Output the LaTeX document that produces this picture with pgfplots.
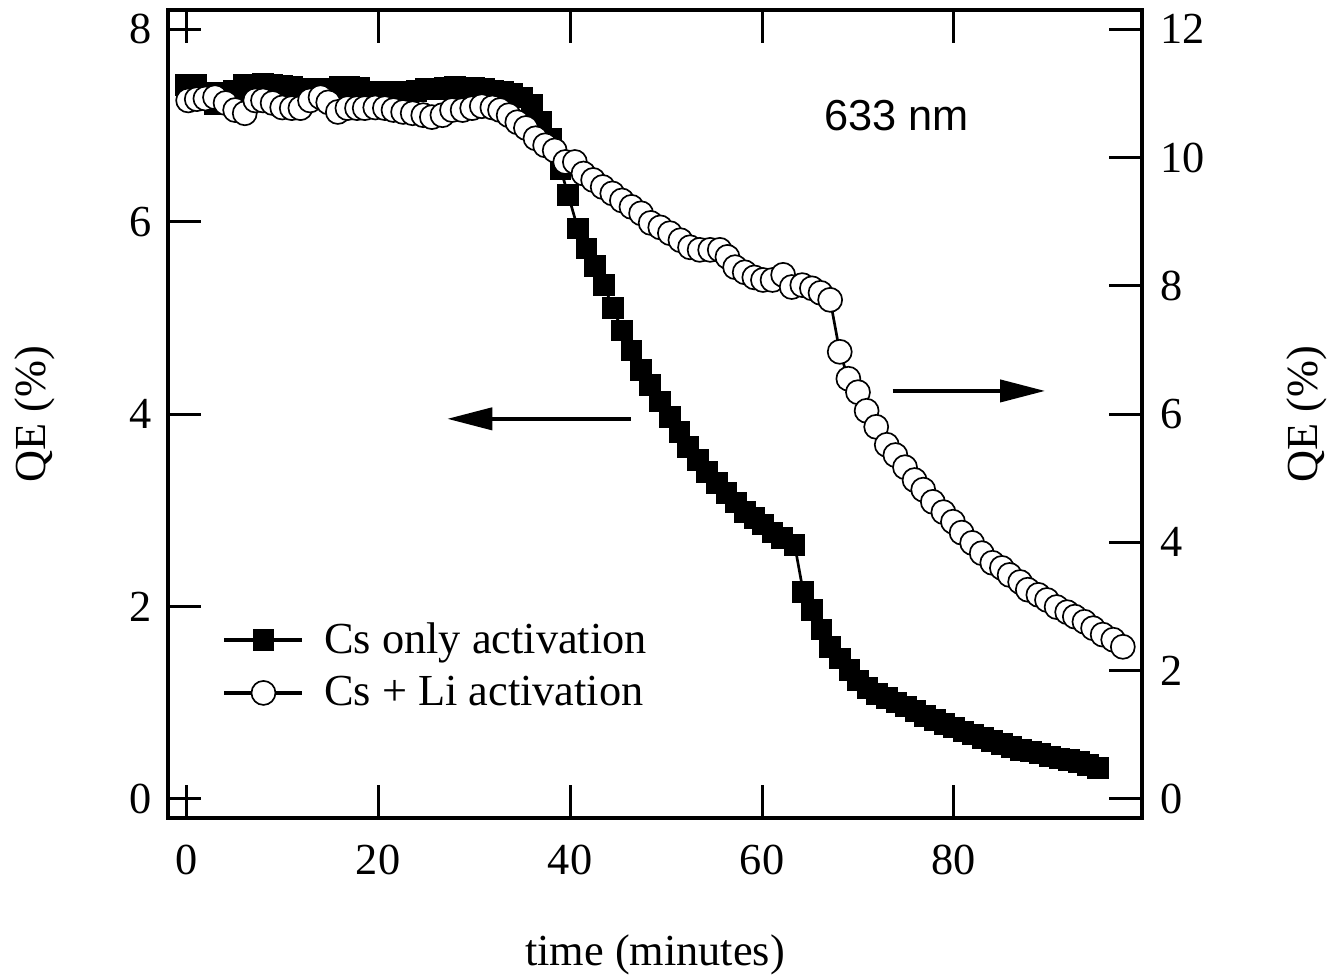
\documentclass[border=0pt]{standalone}
\usepackage{fontspec}
\setmainfont{Liberation Serif}
\newfontfamily\arialfont{Liberation Sans}
\usepackage{pgfplots}
\pgfplotsset{compat=1.18}
\usetikzlibrary{arrows.meta}

\pgfplotstableread{
t v
0 7.42
1 7.42
2 7.34
3 7.22
4 7.34
5 7.36
6 7.42
7 7.42
8 7.43
9 7.42
10 7.41
11 7.40
12 7.38
13 7.38
14 7.37
15 7.38
16 7.40
17 7.40
18 7.39
19 7.35
20 7.35
21 7.34
22 7.35
23 7.33
24 7.36
25 7.38
26 7.38
27 7.39
28 7.40
29 7.39
30 7.39
31 7.38
32 7.36
33 7.35
34 7.33
35 7.29
36 7.21
37 7.04
38 6.86
39 6.55
39.8 6.28
40.8 5.93
41.7 5.72
42.6 5.54
43.5 5.34
44.5 5.10
45.4 4.87
46.4 4.66
47.4 4.46
48.3 4.30
49.4 4.13
50.4 3.97
51.4 3.81
52.3 3.66
53.3 3.52
54.3 3.40
55.3 3.28
56.3 3.18
57.3 3.08
58.2 2.98
59.2 2.92
60.1 2.85
61.1 2.77
62.1 2.71
63.4 2.64
64.3 2.15
65.2 1.96
66.2 1.76
67.1 1.58
68.1 1.46
69.1 1.34
70 1.23
71 1.15
72 1.09
73 1.05
74 1.00
75 0.96
76 0.91
77 0.86
78 0.82
79 0.78
80 0.74
81 0.70
82 0.67
83 0.63
84 0.60
85 0.57
86 0.54
87 0.51
88 0.49
89 0.47
90 0.44
91 0.42
92 0.40
93 0.38
94 0.35
95 0.32
}\csonly

\pgfplotstableread{
t v
0.2 10.89
1.1 10.91
2 10.92
3 10.94
4.1 10.85
5.1 10.74
6.1 10.69
7.2 10.89
8 10.89
9 10.85
10 10.78
11 10.77
11.9 10.77
12.9 10.89
14 10.94
14.8 10.86
15.8 10.71
16.8 10.77
17.8 10.77
18.6 10.77
19.7 10.78
20.7 10.77
21.6 10.74
22.6 10.71
23.6 10.69
24.7 10.66
25.6 10.63
26.7 10.66
27.7 10.74
28.8 10.74
29.8 10.77
30.8 10.80
31.9 10.78
32.7 10.74
33.6 10.66
34.5 10.55
35.4 10.46
36.4 10.30
37.4 10.19
38.4 10.11
39.5 9.93
40.5 9.93
41.4 9.75
42.4 9.65
43.4 9.54
44.4 9.44
45.4 9.33
46.4 9.23
47.4 9.13
48.4 8.98
49.4 8.91
50.4 8.82
51.5 8.71
52.5 8.60
53.5 8.56
54.6 8.56
55.6 8.56
56.4 8.45
57.2 8.29
58.2 8.21
59.2 8.13
60.1 8.09
61.1 8.09
62.2 8.17
63.1 7.98
64.2 8.01
65.2 7.96
66.1 7.89
67.1 7.78
68.1 6.97
69 6.55
70 6.34
70.9 6.05
71.9 5.80
73 5.52
73.9 5.36
74.9 5.17
75.9 4.97
76.8 4.82
77.8 4.63
78.9 4.47
79.9 4.32
80.8 4.15
81.9 3.99
82.9 3.83
84 3.68
85 3.60
85.8 3.49
86.9 3.38
87.7 3.26
88.8 3.18
89.7 3.10
90.7 2.99
91.8 2.91
92.6 2.84
93.6 2.76
94.5 2.66
95.5 2.56
96.6 2.48
97.6 2.37
}\csli

\begin{document}
\begin{tikzpicture}[font=\fontsize{13.3}{16}\selectfont]
\pgfplotsset{
  common/.style={
    width=292.2pt, height=242.4pt, scale only axis,
    xmin=-1.9, xmax=99.6,
    axis line style={line width=1.2pt},
    major tick style={line width=0.9pt, black},
    major tick length=10pt,
    tick align=inside,
    /pgf/number format/assume math mode=true,
    tick label style={font=\fontsize{13.3}{16}\selectfont},
    label style={font=\fontsize{13.3}{16}\selectfont, inner sep=0pt},
  }
}
\begin{axis}[common,
  ymin=-0.2, ymax=8.2,
  xtick={0,20,40,60,80}, ytick={0,2,4,6,8},
  ytick pos=left, xtick pos=both,
  xticklabel style={yshift=-4.5pt},
  yticklabel style={xshift=-1.5pt},
  xlabel={time (minutes)}, ylabel={QE (\%)},
  xlabel style={at={(axis description cs:0.5,-0.1696)}, anchor=center},
  ylabel style={at={(axis description cs:-0.1366,0.5)}, anchor=center},
  legend style={at={(axis description cs:0.0554,0.2513)}, anchor=north west,
    draw=none, fill=none, inner sep=0pt, row sep=1.3pt,
    font=\fontsize{13.3}{16}\selectfont,
    /tikz/every odd column/.append style={column sep=4pt}},
  legend cell align=left,
  legend image code/.code={\draw[mark repeat=2,mark phase=2,#1,line width=1.1pt] plot coordinates {(0pt,0pt) (11.7pt,0pt) (23.4pt,0pt)};},
]
\coordinate (SW) at (rel axis cs:0,0);
\addplot[black, line width=0.8pt, mark=square*, mark size=3pt, mark options={solid, fill=black, line width=0.5pt}] table[x=t, y=v] {\csonly};
\addlegendentry{Cs only activation}
\addlegendimage{black, mark=*, mark size=3.6pt, mark options={solid, fill=white, line width=0.5pt}}
\addlegendentry{Cs + Li activation}
\draw[line width=1.2pt, -{Triangle[length=13.5pt,width=6.6pt]}] (axis cs:46.3,3.95) -- (axis cs:27.2,3.95);
\draw[line width=1.2pt, -{Triangle[length=13.5pt,width=6.6pt]}] (axis cs:73.6,4.24) -- (axis cs:89.5,4.24);
\node[font=\arialfont\fontsize{13}{15.6}\selectfont] at (axis cs:74,7.10) {633 nm};
\end{axis}
\begin{axis}[common,
  ymin=-0.3, ymax=12.3,
  axis y line*=right, axis x line=none,
  ytick={0,2,4,6,8,10,12},
  yticklabel style={xshift=2pt},
  ylabel={QE (\%)},
  ylabel style={at={(axis description cs:1.1694,0.5)}, anchor=center},
]
\addplot[black, line width=0.8pt, mark=*, mark size=3.6pt, mark options={solid, fill=white, line width=0.5pt}] table[x=t, y=v] {\csli};
\end{axis}
\path (SW) ++(-50.4pt,-47.4pt) rectangle ++(398.7pt,292.8pt);
\end{tikzpicture}
\end{document}
